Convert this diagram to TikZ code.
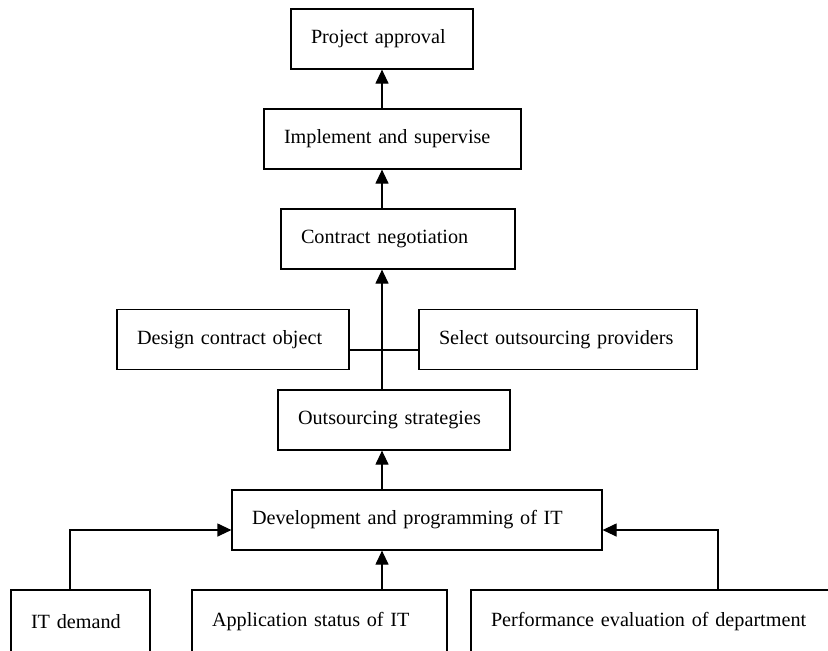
\documentclass[tikz,border=0pt]{standalone}
\usepackage{fontspec}
\setmainfont{Liberation Serif}
\usetikzlibrary{arrows.meta}

\begin{document}
\begin{tikzpicture}[
  x=0.5pt, y=-0.5pt,
  font=\fontsize{10.1}{12}\selectfont,
  box/.style={draw, line width=0.6pt, minimum height=30pt, inner xsep=10pt, inner ysep=0pt, align=left},
  lowbox/.style={box, minimum height=32pt},
  arrow/.style={-{Triangle[length=7pt, width=6.5pt]}, line width=0.6pt},
  link/.style={line width=0.6pt}
]
\clip (0,0) rectangle (828,650);

% upper chain
\node[box, text width=71pt]    (approval)  at (382, 39)    {Project approval};
\node[box, text width=108.5pt] (implement) at (392.5, 139) {Implement and supervise};
\node[box, text width=97pt]    (contract)  at (398, 239)   {Contract negotiation};

% contract side boxes
\node[box, text width=96pt]  (design) at (233, 339.5) {Design contract object};
\node[box, text width=119pt] (select) at (558, 339.5) {\mbox{Select outsourcing providers}};

% strategy and planning
\node[box, text width=96pt]  (strategies)  at (394, 420) {Outsourcing strategies};
\node[box, text width=165pt] (development) at (417, 520) {Development and programming of IT};

% inputs
\node[lowbox, text width=49.5pt]  (itdemand)    at (80.5, 622)  {IT demand};
\node[lowbox, text width=107.5pt] (application) at (319.5, 622) {Application status of IT};
\node[lowbox, text width=169pt]   (performance) at (660, 622)   {Performance evaluation of department};

\coordinate (axis)  at (382, 0);
\coordinate (cross) at (382, 350);
\coordinate (lfeed) at (70, 530);
\coordinate (rfeed) at (718, 530);

\draw[arrow] (implement.north -| axis) -- (approval.south -| axis);
\draw[arrow] (contract.north -| axis) -- (implement.south -| axis);
\draw[arrow] (strategies.north -| axis) -- (contract.south -| axis);
\draw[link] (design.east |- cross) -- (select.west |- cross);
\draw[arrow] (development.north -| axis) -- (strategies.south -| axis);

\draw[arrow] (application.north -| axis) -- (development.south -| axis);
\draw[arrow] (itdemand.north -| lfeed) |- (development.west |- lfeed);
\draw[arrow] (performance.north -| rfeed) |- (development.east |- rfeed);
\end{tikzpicture}
\end{document}
